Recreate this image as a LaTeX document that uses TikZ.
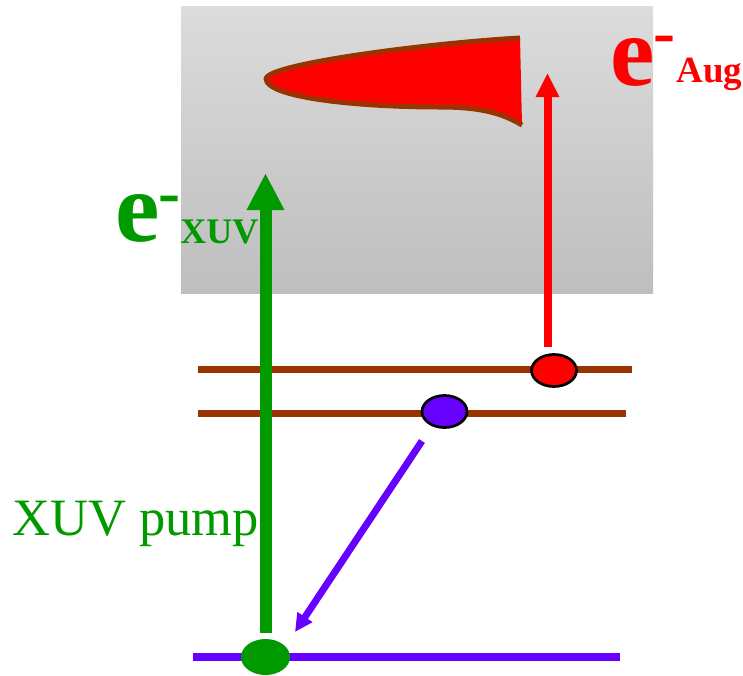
\documentclass[tikz,border=0pt]{standalone}
\usepackage{fontspec}
\setmainfont{Liberation Serif}
\usetikzlibrary{arrows.meta,shapes.geometric}
\definecolor{xgreen}{HTML}{009900}
\definecolor{xred}{HTML}{FF0000}
\definecolor{xpurple}{HTML}{6600FF}
\definecolor{xbrown}{HTML}{993300}
\definecolor{graytop}{HTML}{DCDCDC}
\definecolor{graybot}{HTML}{BEBEBE}
\tikzset{
  lbl/.style={anchor=base west, inner sep=0pt, outer sep=0pt},
  fs/.style={font=\fontsize{#1pt}{#1pt}\selectfont},
  fsb/.style={font=\fontsize{#1pt}{#1pt}\selectfont\bfseries},
  level/.style={draw=xbrown, line width=7pt},
  electron/.style={ellipse, inner sep=0pt, minimum width=45pt, minimum height=32pt, draw=black, line width=2.7pt},
  greenarrow/.style={draw=xgreen, line width=12pt, -{Triangle[length=37pt,width=35pt]}},
  redarrow/.style={draw=xred, line width=8pt, -{Triangle[length=24pt,width=22pt]}},
  purplearrow/.style={draw=xpurple, line width=7pt, -{Triangle[length=18pt,width=17pt]}}
}
\begin{document}
\begin{tikzpicture}[x=1pt,y=-1pt]
\useasboundingbox (0,0) rectangle (743,675);
% continuum box
\shade[top color=graytop, bottom color=graybot] (181,6) rectangle (653,293);
% Auger wave packet
\fill[xred] (520,38) .. controls (430,43) and (266,64) .. (266,79)
  .. controls (268,98) and (360,107) .. (440,107)
  .. controls (480,107) and (502,113) .. (522,125) -- cycle;
\draw[xbrown, line width=5pt, line join=round] (520,38) .. controls (430,43) and (266,64) .. (266,79)
  .. controls (268,98) and (360,107) .. (440,107)
  .. controls (480,107) and (502,113) .. (522,125);
% labels
\node[lbl, fsb=100, text=xgreen] (egreen) at (115.5,241.6) {e};
\node[lbl, fsb=66, text=xgreen] (mgreen) at (158,214) {-};
\node[lbl, fsb=36, text=xgreen] (sxuv) at (180.4,243) {XUV};
\node[lbl, fsb=100, text=xred] (ered) at (610.5,85.6) {e};
\node[lbl, fsb=66, text=xred] (mred) at (653,54) {-};
\node[lbl, fsb=37, text=xred] (saug) at (676.7,82.5) {Aug};
\node[lbl, fs=52.5, text=xgreen] (pump) at (12.2,535) {XUV pump};
% levels
\draw[level] (198,369.5) -- (632,369.5);
\draw[level] (198,413) -- (626,413);
\draw[draw=xpurple, line width=8pt] (193,657) -- (620,657);
% electrons
\node[electron, fill=xred] (rs) at (554,370.5) {};
\node[electron, fill=xpurple] (ps) at (444.5,411.5) {};
\node[ellipse, inner sep=0pt, minimum width=49pt, minimum height=36pt, fill=xgreen] (gs) at (265.5,657) {};
% arrows
\coordinate (gtop) at (265.5,173);
\coordinate (rfrom) at (547.5,347);
\coordinate (rtop) at (547.5,73);
\coordinate (pfrom) at (422,441);
\coordinate (pto) at (295,632);
\draw[greenarrow] ([yshift=6pt]gs.north) -- (gtop);
\draw[redarrow] (rfrom) -- (rtop);
\draw[purplearrow] (pfrom) -- (pto);
\end{tikzpicture}
\end{document}
